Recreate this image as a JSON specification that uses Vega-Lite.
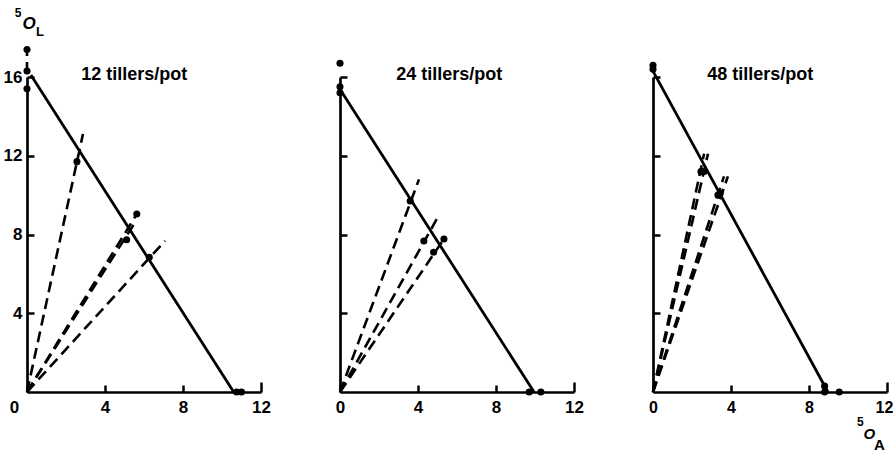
{
  "$schema": "https://vega.github.io/schema/vega-lite/v6.json",
  "background": "white",
  "padding": {"left": 3, "top": 6, "right": 0, "bottom": 0},
  "config": {
    "view": {"stroke": null},
    "axis": {
      "domainColor": "black",
      "domainWidth": 2.7,
      "tickColor": "black",
      "tickWidth": 2.5,
      "tickSize": -7,
      "labelColor": "black",
      "labelFont": "Liberation Sans",
      "labelFontWeight": "bold",
      "labelFontSize": 17,
      "grid": false,
      "title": null
    },
    "text": {"font": "Liberation Sans", "color": "black"}
  },
  "datasets": {
    "rows": [
      {"panel": "12 tillers/pot", "kind": "title"},
      {"panel": "12 tillers/pot", "kind": "ylabel"},
      {"panel": "12 tillers/pot", "kind": "solid", "id": "s", "step": 0, "x": 0.2, "y": 16.1},
      {"panel": "12 tillers/pot", "kind": "solid", "id": "s", "step": 1, "x": 10.6, "y": 0},
      {"panel": "12 tillers/pot", "kind": "dashed", "id": "a", "step": 0, "x": 0, "y": 16.2},
      {"panel": "12 tillers/pot", "kind": "dashed", "id": "a", "step": 1, "x": 0, "y": 17.4},
      {"panel": "12 tillers/pot", "kind": "dashed", "id": "b", "step": 0, "x": 0, "y": 0},
      {"panel": "12 tillers/pot", "kind": "dashed", "id": "b", "step": 1, "x": 2.87, "y": 13.1},
      {"panel": "12 tillers/pot", "kind": "dashed", "id": "c", "step": 0, "x": 0, "y": 0},
      {"panel": "12 tillers/pot", "kind": "dashed", "id": "c", "step": 1, "x": 5.63, "y": 9.04},
      {"panel": "12 tillers/pot", "kind": "dashed", "id": "d", "step": 0, "x": 0, "y": 0},
      {"panel": "12 tillers/pot", "kind": "dashed", "id": "d", "step": 1, "x": 5.49, "y": 8.53},
      {"panel": "12 tillers/pot", "kind": "dashed", "id": "e", "step": 0, "x": 0, "y": 0},
      {"panel": "12 tillers/pot", "kind": "dashed", "id": "e", "step": 1, "x": 7.08, "y": 7.68},
      {"panel": "12 tillers/pot", "kind": "dot", "x": 0, "y": 17.4},
      {"panel": "12 tillers/pot", "kind": "dot", "x": 0, "y": 16.3},
      {"panel": "12 tillers/pot", "kind": "dot", "x": 0, "y": 15.4},
      {"panel": "12 tillers/pot", "kind": "dot", "x": 2.56, "y": 11.7},
      {"panel": "12 tillers/pot", "kind": "dot", "x": 5.63, "y": 9.04},
      {"panel": "12 tillers/pot", "kind": "dot", "x": 5.11, "y": 7.73},
      {"panel": "12 tillers/pot", "kind": "dot", "x": 6.27, "y": 6.84},
      {"panel": "12 tillers/pot", "kind": "dot", "x": 10.75, "y": 0},
      {"panel": "12 tillers/pot", "kind": "dot", "x": 11.0, "y": 0},

      {"panel": "24 tillers/pot", "kind": "title"},
      {"panel": "24 tillers/pot", "kind": "solid", "id": "s", "step": 0, "x": 0.05, "y": 15.3},
      {"panel": "24 tillers/pot", "kind": "solid", "id": "s", "step": 1, "x": 9.95, "y": 0},
      {"panel": "24 tillers/pot", "kind": "dashed", "id": "a", "step": 0, "x": 0, "y": 0},
      {"panel": "24 tillers/pot", "kind": "dashed", "id": "a", "step": 1, "x": 4.05, "y": 10.8},
      {"panel": "24 tillers/pot", "kind": "dashed", "id": "b", "step": 0, "x": 0, "y": 0},
      {"panel": "24 tillers/pot", "kind": "dashed", "id": "b", "step": 1, "x": 4.97, "y": 8.8},
      {"panel": "24 tillers/pot", "kind": "dashed", "id": "c", "step": 0, "x": 0, "y": 0},
      {"panel": "24 tillers/pot", "kind": "dashed", "id": "c", "step": 1, "x": 5.33, "y": 7.77},
      {"panel": "24 tillers/pot", "kind": "dot", "x": 0, "y": 16.7},
      {"panel": "24 tillers/pot", "kind": "dot", "x": 0, "y": 15.5},
      {"panel": "24 tillers/pot", "kind": "dot", "x": 0, "y": 15.2},
      {"panel": "24 tillers/pot", "kind": "dot", "x": 3.6, "y": 9.7},
      {"panel": "24 tillers/pot", "kind": "dot", "x": 4.3, "y": 7.67},
      {"panel": "24 tillers/pot", "kind": "dot", "x": 4.8, "y": 7.1},
      {"panel": "24 tillers/pot", "kind": "dot", "x": 5.33, "y": 7.77},
      {"panel": "24 tillers/pot", "kind": "dot", "x": 9.7, "y": 0},
      {"panel": "24 tillers/pot", "kind": "dot", "x": 10.3, "y": 0},

      {"panel": "48 tillers/pot", "kind": "title"},
      {"panel": "48 tillers/pot", "kind": "xlabel"},
      {"panel": "48 tillers/pot", "kind": "solid", "id": "s", "step": 0, "x": 0, "y": 16.3},
      {"panel": "48 tillers/pot", "kind": "solid", "id": "s", "step": 1, "x": 8.97, "y": 0},
      {"panel": "48 tillers/pot", "kind": "dashed", "id": "a", "step": 0, "x": 0, "y": 0},
      {"panel": "48 tillers/pot", "kind": "dashed", "id": "a", "step": 1, "x": 2.62, "y": 12.1},
      {"panel": "48 tillers/pot", "kind": "dashed", "id": "b", "step": 0, "x": 0, "y": 0},
      {"panel": "48 tillers/pot", "kind": "dashed", "id": "b", "step": 1, "x": 2.82, "y": 12.1},
      {"panel": "48 tillers/pot", "kind": "dashed", "id": "c", "step": 0, "x": 0, "y": 0},
      {"panel": "48 tillers/pot", "kind": "dashed", "id": "c", "step": 1, "x": 3.64, "y": 10.95},
      {"panel": "48 tillers/pot", "kind": "dashed", "id": "d", "step": 0, "x": 0, "y": 0},
      {"panel": "48 tillers/pot", "kind": "dashed", "id": "d", "step": 1, "x": 3.84, "y": 10.95},
      {"panel": "48 tillers/pot", "kind": "dot", "x": 0, "y": 16.4},
      {"panel": "48 tillers/pot", "kind": "dot", "x": 0, "y": 16.6},
      {"panel": "48 tillers/pot", "kind": "dot", "x": 2.46, "y": 11.2},
      {"panel": "48 tillers/pot", "kind": "dot", "x": 2.62, "y": 11.2},
      {"panel": "48 tillers/pot", "kind": "dot", "x": 3.33, "y": 10.0},
      {"panel": "48 tillers/pot", "kind": "dot", "x": 3.45, "y": 10.1},
      {"panel": "48 tillers/pot", "kind": "dot", "x": 8.8, "y": 0.3},
      {"panel": "48 tillers/pot", "kind": "dot", "x": 8.8, "y": 0},
      {"panel": "48 tillers/pot", "kind": "dot", "x": 9.55, "y": 0}
    ]
  },
  "spacing": 79,
  "bounds": "flush",
  "hconcat": [
    {
      "width": 234,
      "height": 315,
      "data": {"name": "rows"},
      "transform": [{"filter": "datum.panel == '12 tillers/pot'"}],
      "layer": [
        {
          "transform": [{"filter": "datum.kind == 'solid'"}],
          "mark": {"type": "line", "color": "black", "strokeWidth": 2.8},
          "encoding": {
            "x": {"field": "x", "type": "quantitative", "scale": {"domain": [0, 12], "nice": false},
                  "axis": {"values": [0, 4, 8, 12], "labelFlush": false,
                           "labelPadding": {"condition": {"test": "datum.value == 12", "value": 17}, "value": 14},
                           "labelOffset": {"condition": {"test": "datum.value == 0", "value": -13}, "value": 0},
                           "tickSize": {"condition": {"test": "datum.value == 12", "value": -10}, "value": -7}}},
            "y": {"field": "y", "type": "quantitative", "scale": {"domain": [0, 16], "nice": false},
                  "axis": {"values": [4, 8, 12, 16], "labelPadding": 12}},
            "detail": {"field": "id"},
            "order": {"field": "step"}
          }
        },
        {
          "transform": [{"filter": "datum.kind == 'dashed'"}],
          "mark": {"type": "line", "color": "black", "strokeWidth": 2.6, "strokeDash": [11, 6]},
          "encoding": {
            "x": {"field": "x", "type": "quantitative"},
            "y": {"field": "y", "type": "quantitative"},
            "detail": {"field": "id"},
            "order": {"field": "step"}
          }
        },
        {
          "transform": [{"filter": "datum.kind == 'dot'"}],
          "mark": {"type": "circle", "color": "black", "opacity": 1, "size": 50},
          "encoding": {
            "x": {"field": "x", "type": "quantitative"},
            "y": {"field": "y", "type": "quantitative"}
          }
        },
        {
          "transform": [{"filter": "datum.kind == 'title'"}],
          "mark": {"type": "text", "fontSize": 18, "fontWeight": "bold", "align": "center", "baseline": "middle"},
          "encoding": {"x": {"datum": 5.5}, "y": {"datum": 16.1}, "text": {"field": "panel"}}
        },
        {
          "transform": [{"filter": "datum.kind == 'ylabel'"}],
          "mark": {"type": "text", "fontSize": 12, "fontWeight": "bold", "align": "center", "baseline": "middle", "dx": -9, "dy": -11},
          "encoding": {"x": {"datum": 0}, "y": {"datum": 18.7}, "text": {"value": "5"}}
        },
        {
          "transform": [{"filter": "datum.kind == 'ylabel'"}],
          "mark": {"type": "text", "fontSize": 17, "fontWeight": "bold", "fontStyle": "italic", "align": "center", "baseline": "middle", "dx": 2},
          "encoding": {"x": {"datum": 0}, "y": {"datum": 18.7}, "text": {"value": "O"}}
        },
        {
          "transform": [{"filter": "datum.kind == 'ylabel'"}],
          "mark": {"type": "text", "fontSize": 13, "fontWeight": "bold", "align": "center", "baseline": "middle", "dx": 13, "dy": 8},
          "encoding": {"x": {"datum": 0}, "y": {"datum": 18.7}, "text": {"value": "L"}}
        }
      ]
    },
    {
      "width": 234,
      "height": 315,
      "data": {"name": "rows"},
      "transform": [{"filter": "datum.panel == '24 tillers/pot'"}],
      "layer": [
        {
          "transform": [{"filter": "datum.kind == 'solid'"}],
          "mark": {"type": "line", "color": "black", "strokeWidth": 2.8},
          "encoding": {
            "x": {"field": "x", "type": "quantitative", "scale": {"domain": [0, 12], "nice": false},
                  "axis": {"values": [0, 4, 8, 12], "labelFlush": false,
                           "labelPadding": {"condition": {"test": "datum.value == 12", "value": 17}, "value": 14},
                           "tickSize": {"condition": {"test": "datum.value == 12", "value": -10}, "value": -7}}},
            "y": {"field": "y", "type": "quantitative", "scale": {"domain": [0, 16], "nice": false},
                  "axis": {"values": [4, 8, 12, 16], "labels": false}},
            "detail": {"field": "id"},
            "order": {"field": "step"}
          }
        },
        {
          "transform": [{"filter": "datum.kind == 'dashed'"}],
          "mark": {"type": "line", "color": "black", "strokeWidth": 2.6, "strokeDash": [11, 6]},
          "encoding": {
            "x": {"field": "x", "type": "quantitative"},
            "y": {"field": "y", "type": "quantitative"},
            "detail": {"field": "id"},
            "order": {"field": "step"}
          }
        },
        {
          "transform": [{"filter": "datum.kind == 'dot'"}],
          "mark": {"type": "circle", "color": "black", "opacity": 1, "size": 50},
          "encoding": {
            "x": {"field": "x", "type": "quantitative"},
            "y": {"field": "y", "type": "quantitative"}
          }
        },
        {
          "transform": [{"filter": "datum.kind == 'title'"}],
          "mark": {"type": "text", "fontSize": 18, "fontWeight": "bold", "align": "center", "baseline": "middle"},
          "encoding": {"x": {"datum": 5.6}, "y": {"datum": 16.1}, "text": {"field": "panel"}}
        }
      ]
    },
    {
      "width": 234,
      "height": 315,
      "data": {"name": "rows"},
      "transform": [{"filter": "datum.panel == '48 tillers/pot'"}],
      "layer": [
        {
          "transform": [{"filter": "datum.kind == 'solid'"}],
          "mark": {"type": "line", "color": "black", "strokeWidth": 2.8},
          "encoding": {
            "x": {"field": "x", "type": "quantitative", "scale": {"domain": [0, 12], "nice": false},
                  "axis": {"values": [0, 4, 8, 12], "labelFlush": false, "labelFontSize": 16,
                           "labelPadding": {"condition": {"test": "datum.value == 12", "value": 17}, "value": 14},
                           "labelOffset": {"condition": {"test": "datum.value == 12", "value": -3}, "value": 0},
                           "tickSize": {"condition": {"test": "datum.value == 12", "value": -10}, "value": -7}}},
            "y": {"field": "y", "type": "quantitative", "scale": {"domain": [0, 16], "nice": false},
                  "axis": {"values": [4, 8, 12, 16], "labels": false}},
            "detail": {"field": "id"},
            "order": {"field": "step"}
          }
        },
        {
          "transform": [{"filter": "datum.kind == 'dashed'"}],
          "mark": {"type": "line", "color": "black", "strokeWidth": 2.6, "strokeDash": [11, 6]},
          "encoding": {
            "x": {"field": "x", "type": "quantitative"},
            "y": {"field": "y", "type": "quantitative"},
            "detail": {"field": "id"},
            "order": {"field": "step"}
          }
        },
        {
          "transform": [{"filter": "datum.kind == 'dot'"}],
          "mark": {"type": "circle", "color": "black", "opacity": 1, "size": 50},
          "encoding": {
            "x": {"field": "x", "type": "quantitative"},
            "y": {"field": "y", "type": "quantitative"}
          }
        },
        {
          "transform": [{"filter": "datum.kind == 'title'"}],
          "mark": {"type": "text", "fontSize": 18, "fontWeight": "bold", "align": "center", "baseline": "middle"},
          "encoding": {"x": {"datum": 5.5}, "y": {"datum": 16.1}, "text": {"field": "panel"}}
        },
        {
          "transform": [{"filter": "datum.kind == 'xlabel'"}],
          "mark": {"type": "text", "fontSize": 12, "fontWeight": "bold", "align": "center", "baseline": "middle", "dx": -9, "dy": -12},
          "encoding": {"x": {"datum": 11.1}, "y": {"datum": -2.15}, "text": {"value": "5"}}
        },
        {
          "transform": [{"filter": "datum.kind == 'xlabel'"}],
          "mark": {"type": "text", "fontSize": 15, "fontWeight": "bold", "fontStyle": "italic", "align": "center", "baseline": "middle"},
          "encoding": {"x": {"datum": 11.1}, "y": {"datum": -2.15}, "text": {"value": "O"}}
        },
        {
          "transform": [{"filter": "datum.kind == 'xlabel'"}],
          "mark": {"type": "text", "fontSize": 15, "fontWeight": "bold", "align": "center", "baseline": "middle", "dx": 10, "dy": 11},
          "encoding": {"x": {"datum": 11.1}, "y": {"datum": -2.15}, "text": {"value": "A"}}
        }
      ]
    }
  ]
}
